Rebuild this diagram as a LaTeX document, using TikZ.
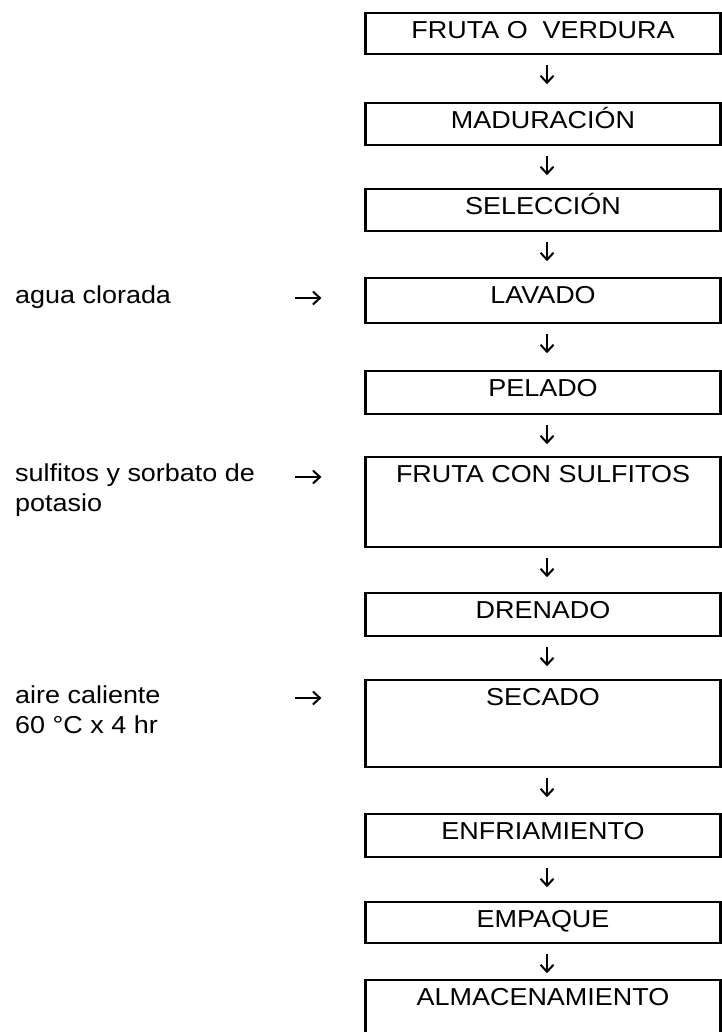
\documentclass[tikz,border=0pt]{standalone}
\usepackage{fontspec}
\setmainfont{Liberation Sans}[FakeStretch=1.1]
\usetikzlibrary{arrows.meta,calc}
\tikzset{
  stepbox/.style={draw, line width=2.2pt, inner xsep=0pt, inner ysep=0pt,
    minimum width=355pt, text height=25pt, text depth=#1, anchor=north,
    font=\fontsize{24.5}{29}\selectfont},
  inlabel/.style={anchor=base west, align=left, inner sep=0pt,
    font=\fontsize{24.5}{30}\selectfont},
  arr/.style={line width=2pt, -{Straight Barb[length=7pt,width=13pt,line width=2pt]}},
}
\begin{document}
\begin{tikzpicture}[x=1pt,y=-1pt]
\useasboundingbox[fill=white] (0,0) rectangle (721,1032);
% boxes
\node[stepbox=16pt] (b1) at (543,12) {FRUTA O\ \ VERDURA};
\node[stepbox=17pt] (b2) at (543,102) {MADURACIÓN};
\node[stepbox=17pt] (b3) at (543,188) {SELECCIÓN};
\node[stepbox=20pt] (b4) at (543,277) {LAVADO};
\node[stepbox=18pt] (b5) at (543,370) {PELADO};
\node[stepbox=65pt] (b6) at (543,456) {FRUTA CON SULFITOS};
\node[stepbox=18pt] (b7) at (543,592) {DRENADO};
\node[stepbox=62pt] (b8) at (543,679) {SECADO};
\node[stepbox=18pt] (b9) at (543,813) {ENFRIAMIENTO};
\node[stepbox=16pt] (b10) at (543,901) {EMPAQUE};
\node[stepbox=40pt] (b11) at (543,979) {ALMACENAMIENTO};
% down arrows
\foreach \a/\b in {b1/b2,b2/b3,b3/b4,b4/b5,b5/b6,b6/b7,b7/b8,b8/b9,b9/b10,b10/b11}{
  \draw[arr] ($(\a.south)+(4,10)$) -- ++(0,19);
}
% inputs
\node[inlabel] (l4) at (15,303) {agua clorada};
\node[inlabel] (l6) at (15,511) {sulfitos y sorbato de\\potasio};
\node[inlabel] (l8) at (15,733) {aire caliente\\60 °C x 4 hr};
\coordinate (s4) at (295,298);
\coordinate (s6) at (295,477);
\coordinate (s8) at (295,698);
\draw[arr, shorten >=43pt] (s4) -- (s4 -| b4.west);
\draw[arr, shorten >=43pt] (s6) -- (s6 -| b6.west);
\draw[arr, shorten >=43pt] (s8) -- (s8 -| b8.west);
\end{tikzpicture}
\end{document}
